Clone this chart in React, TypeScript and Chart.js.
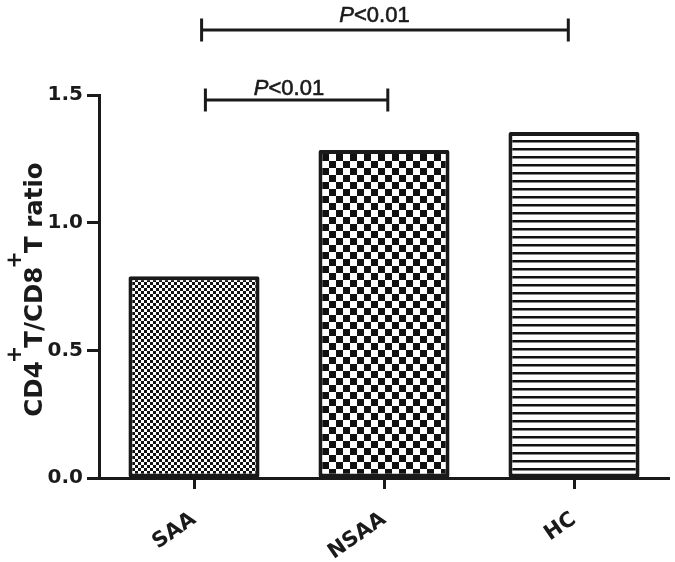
import React, { useEffect, useRef } from 'react';
import { Chart, registerables } from 'chart.js';

Chart.register(...registerables);

const categories = ['SAA', 'NSAA', 'HC'];
const ratios = [0.79, 1.285, 1.355];
const yMin = 0;
const yMax = 1.5;
const yStep = 0.5;
const patternKinds = ['fine', 'coarse', 'lines'];

const bracketStart = [0.04, 0.06];
const bracketEnd = [1.97, 1.02];
const bracketLevel = [1.755, 1.48];
const bracketItalic = ['P', 'P'];
const bracketRest = ['<0.01', '<0.01'];
const bracketTextCenter = [0.95, 0.5];

const INK = '#1a1a1a';

function makePattern(kind: string): CanvasPattern | string {
  const c = document.createElement('canvas');
  const ctx = c.getContext('2d');
  if (!ctx) return '#fff';
  if (kind === 'fine') {
    c.width = 6; c.height = 6;
    ctx.fillStyle = '#fff'; ctx.fillRect(0, 0, 6, 6);
    ctx.fillStyle = '#111';
    ctx.fillRect(0, 0, 3, 3); ctx.fillRect(3, 3, 3, 3);
  } else if (kind === 'coarse') {
    c.width = 14; c.height = 14;
    ctx.fillStyle = '#fff'; ctx.fillRect(0, 0, 14, 14);
    ctx.fillStyle = '#111';
    ctx.fillRect(0, 0, 7, 7); ctx.fillRect(7, 7, 7, 7);
  } else {
    c.width = 8; c.height = 8;
    ctx.fillStyle = '#fff'; ctx.fillRect(0, 0, 8, 8);
    ctx.fillStyle = '#111'; ctx.fillRect(0, 4, 8, 2);
    ctx.fillStyle = '#888'; ctx.fillRect(0, 6, 8, 1);
  }
  return ctx.createPattern(c, 'repeat') || '#fff';
}

const bracketPlugin = {
  id: 'brackets',
  afterDraw(chart: any) {
    const ctx = chart.ctx;
    const x = chart.scales.x;
    const y = chart.scales.y;
    ctx.save();
    ctx.strokeStyle = INK;
    ctx.fillStyle = INK;
    ctx.lineWidth = 3;
    for (let i = 0; i < bracketStart.length; i++) {
      const x0 = x.getPixelForValue(bracketStart[i]);
      const x1 = x.getPixelForValue(bracketEnd[i]);
      const yy = y.getPixelForValue(bracketLevel[i]);
      ctx.beginPath();
      ctx.moveTo(x0, yy); ctx.lineTo(x1, yy);
      ctx.moveTo(x0, yy - 11.5); ctx.lineTo(x0, yy + 11.5);
      ctx.moveTo(x1, yy - 11.5); ctx.lineTo(x1, yy + 11.5);
      ctx.stroke();
      const italicFont = 'italic 22px "Liberation Sans", Arial, sans-serif';
      const regFont = '22px "Liberation Sans", Arial, sans-serif';
      ctx.font = italicFont;
      const w1 = ctx.measureText(bracketItalic[i]).width;
      ctx.font = regFont;
      const w2 = ctx.measureText(bracketRest[i]).width;
      const cx = x.getPixelForValue(bracketTextCenter[i]);
      const left = cx - (w1 + w2) / 2;
      const base = yy - (i === 0 ? 8 : 5);
      ctx.textBaseline = 'alphabetic';
      ctx.textAlign = 'left';
      ctx.lineWidth = 0.6;
      ctx.font = italicFont;
      ctx.fillText(bracketItalic[i], left, base);
      ctx.strokeText(bracketItalic[i], left, base);
      ctx.font = regFont;
      ctx.fillText(bracketRest[i], left + w1, base);
      ctx.strokeText(bracketRest[i], left + w1, base);
      ctx.lineWidth = 3;
    }
    ctx.restore();
  },
};

const titlePlugin = {
  id: 'ytitle',
  afterDraw(chart: any) {
    const ctx = chart.ctx;
    const parts: [string, boolean][] = [
      ['CD4', false], ['+', true], ['T/CD8', false], ['+', true], ['T ratio', false],
    ];
    const mainFont = 'bold 24.5px "DejaVu Sans", sans-serif';
    const supFont = 'bold 21px "DejaVu Sans", sans-serif';
    let total = 0;
    const widths: number[] = [];
    for (const [t, sup] of parts) {
      ctx.font = sup ? supFont : mainFont;
      const w = ctx.measureText(t).width - (sup ? 4 : 0);
      widths.push(w);
      total += w;
    }
    const y = chart.scales.y;
    const cy = (y.top + y.bottom) / 2 + 3;
    ctx.save();
    ctx.translate(42, cy);
    ctx.rotate(-Math.PI / 2);
    ctx.fillStyle = INK;
    ctx.textBaseline = 'alphabetic';
    ctx.textAlign = 'left';
    let pos = -total / 2;
    parts.forEach(([t, sup], i) => {
      ctx.font = sup ? supFont : mainFont;
      ctx.fillText(t, pos - (sup ? 2 : 0), sup ? -21 : 0);
      pos += widths[i];
    });
    ctx.restore();
  },
};

export default function App() {
  const ref = useRef<HTMLCanvasElement>(null);
  useEffect(() => {
    if (!ref.current) return;
    const patterns = patternKinds.map((k) => makePattern(k));
    const chart = new Chart(ref.current, {
      type: 'bar',
      data: {
        labels: categories,
        datasets: [
          {
            data: ratios,
            backgroundColor: patterns as any,
            borderColor: INK,
            borderWidth: 4,
            borderSkipped: false,
            borderRadius: 2,
            barPercentage: 0.69,
            categoryPercentage: 1,
          },
        ],
      },
      options: {
        responsive: false,
        animation: false,
        layout: { padding: { top: 95, right: 6, left: 0, bottom: 0 } },
        plugins: { legend: { display: false }, tooltip: { enabled: false } },
        scales: {
          x: {
            afterFit: (s: any) => { s.height = 84; },
            grid: {
              offset: false,
              drawOnChartArea: false,
              drawTicks: true,
              tickLength: 11,
              tickWidth: 3,
              tickColor: INK,
            },
            border: { display: true, width: 3, color: INK },
            ticks: {
              color: INK,
              font: { family: '"DejaVu Sans", sans-serif', size: 21, weight: 'bold' },
              minRotation: 35,
              maxRotation: 35,
              padding: 18,
            },
          },
          y: {
            min: yMin,
            max: yMax,
            afterFit: (s: any) => { s.width = 99; },
            grid: {
              drawOnChartArea: false,
              drawTicks: true,
              tickLength: 12,
              tickWidth: 3,
              tickColor: INK,
            },
            border: { display: true, width: 3, color: INK },
            ticks: {
              stepSize: yStep,
              color: INK,
              padding: 4,
              font: { family: '"DejaVu Sans", sans-serif', size: 20, weight: 'bold' },
              callback: (v: any) => Number(v).toFixed(1),
            },
          },
        },
      },
      plugins: [bracketPlugin, titlePlugin],
    });
    return () => chart.destroy();
  }, []);
  return (
    <canvas
      ref={ref}
      width={675}
      height={562}
      style={{ position: 'absolute', left: 0, top: 0, width: 675, height: 562 }}
    />
  );
}
